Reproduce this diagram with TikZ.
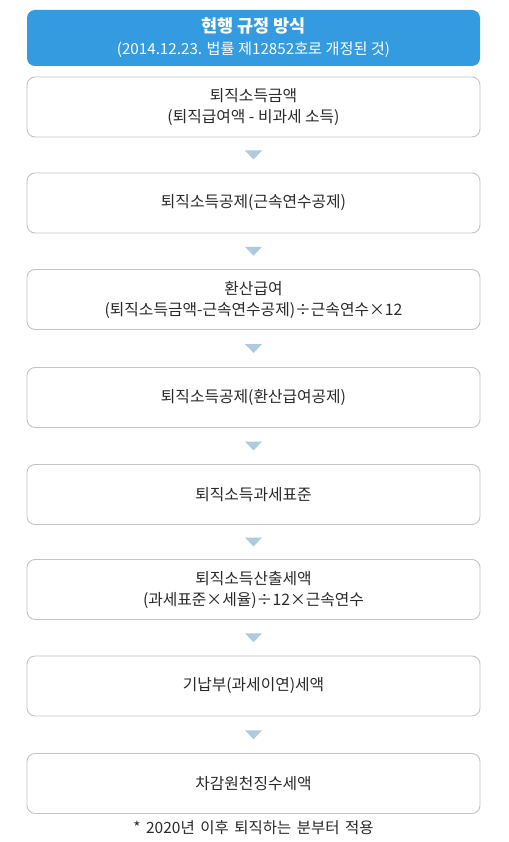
\documentclass[tikz,border=0pt]{standalone}
\usepackage{fontspec}
\setmainfont{Noto Sans CJK KR}
\usetikzlibrary{calc}
\definecolor{headblue}{HTML}{359BE0}
\definecolor{boxline}{HTML}{C4C4C4}
\definecolor{arrowc}{HTML}{AECBDD}
\definecolor{txt}{HTML}{2A2A2A}
\tikzset{
  stepbox/.style={draw=boxline, line width=0.9pt, rounded corners=8pt, fill=white,
    minimum width=453pt, minimum height=60pt, align=center, text=txt,
    font=\fontsize{15.8}{21}\selectfont, inner sep=0pt},
  headbox/.style={fill=headblue, rounded corners=8pt, minimum width=453pt,
    minimum height=56pt, align=center, text=white,
    font=\fontsize{15.2}{22}\selectfont, inner sep=0pt},
  downtri/.style={fill=arrowc},
  note/.style={text=txt, font=\fontsize{15.5}{16}\selectfont, inner sep=0pt}
}
\newcommand{\downarrowbetween}[2]{%
  \path ($(#1.south)!0.5!(#2.north)$) coordinate (m#1);
  \fill[downtri] (m#1) ++(-8.5,-4.5) -- ++(17,0) -- ++(-8.5,9) -- cycle;
}
\begin{document}
\begin{tikzpicture}[x=1pt,y=-1pt]
\useasboundingbox (0,0) rectangle (508,842);
\fill[white] (0,0) rectangle (508,842);
\node[headbox] (h) at (253.5,38) {{\fontsize{17.5}{22}\selectfont\bfseries 현행 규정 방식}\\(2014.12.23. 법률 제12852호로 개정된 것)};
\node[stepbox] (b1) at (253.5,107) {퇴직소득금액\\(퇴직급여액 - 비과세 소득)};
\node[stepbox] (b2) at (253.5,203) {퇴직소득공제(근속연수공제)};
\node[stepbox] (b3) at (253.5,299.5) {환산급여\\(퇴직소득금액-근속연수공제)÷근속연수×12};
\node[stepbox] (b4) at (253.5,397.5) {퇴직소득공제(환산급여공제)};
\node[stepbox] (b5) at (253.5,494.5) {퇴직소득과세표준};
\node[stepbox] (b6) at (253.5,589.5) {퇴직소득산출세액\\(과세표준×세율)÷12×근속연수};
\node[stepbox] (b7) at (253.5,686) {기납부(과세이연)세액};
\node[stepbox] (b8) at (253.5,783.5) {차감원천징수세액};
\node[note] (n) at (253.5,828) {\spaceskip=5.5pt\relax * 2020년 이후 퇴직하는 분부터 적용};
\downarrowbetween{b1}{b2}
\downarrowbetween{b2}{b3}
\downarrowbetween{b3}{b4}
\downarrowbetween{b4}{b5}
\downarrowbetween{b5}{b6}
\downarrowbetween{b6}{b7}
\downarrowbetween{b7}{b8}
\end{tikzpicture}
\end{document}
